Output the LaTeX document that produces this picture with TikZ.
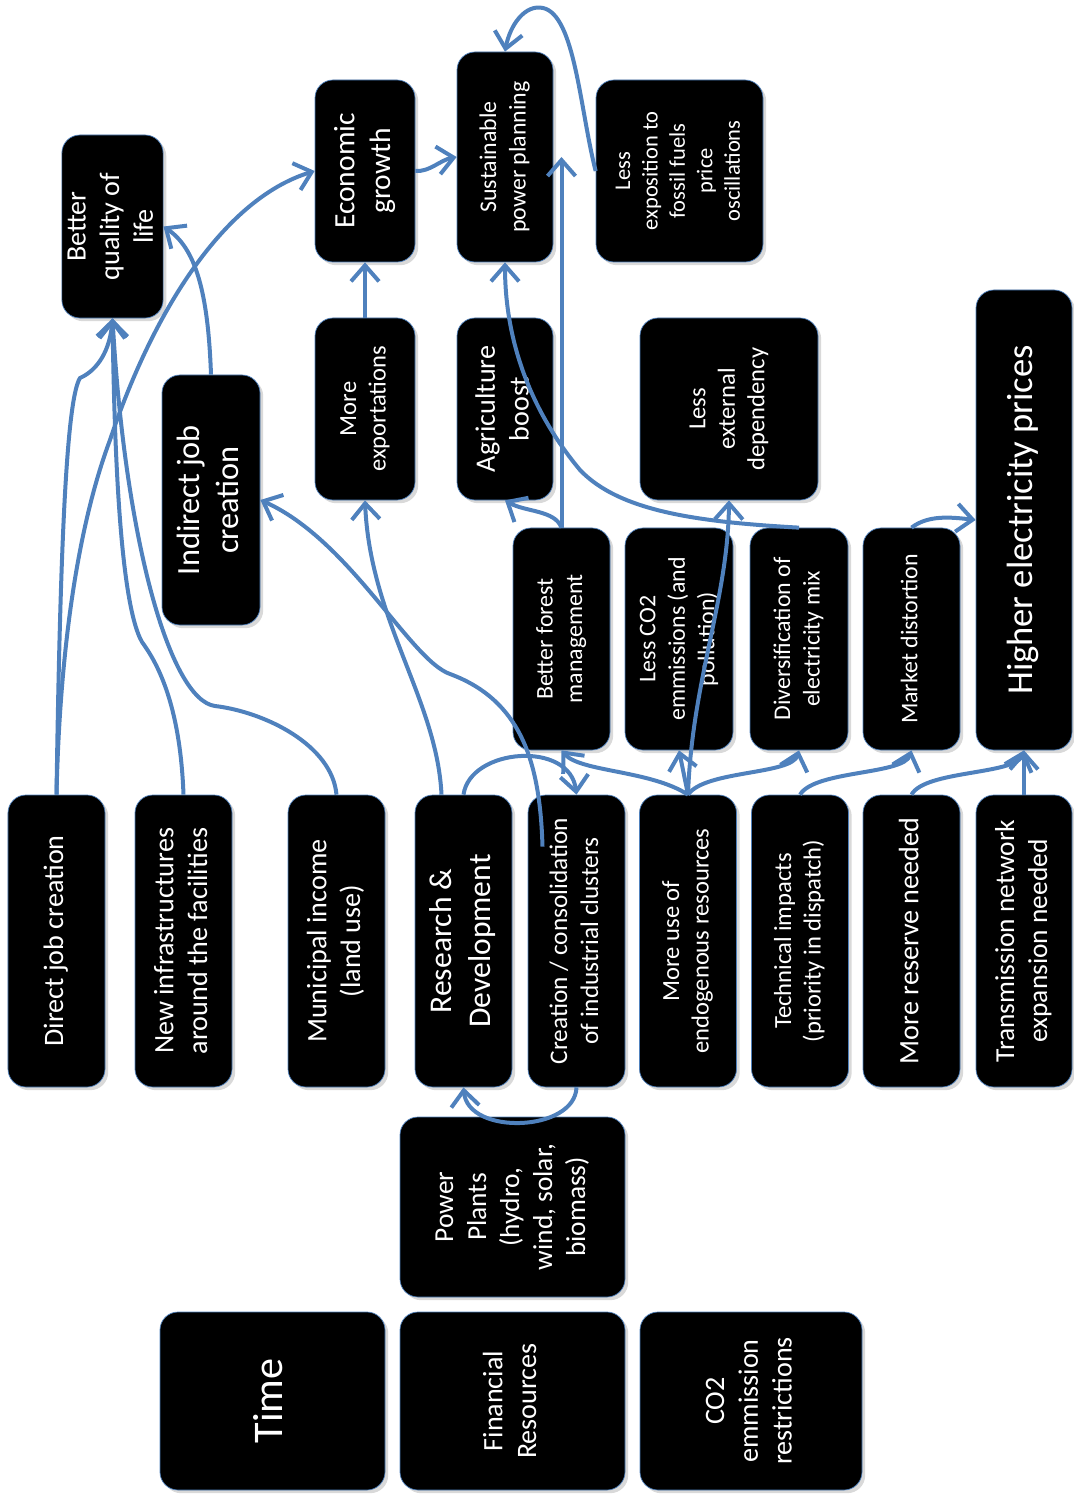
\documentclass[tikz,border=0pt]{standalone}
\usepackage{fontspec}
\setmainfont{Carlito}
\usetikzlibrary{arrows.meta,shadows}
\definecolor{linkblue}{RGB}{79,129,189}
\newcommand{\vlab}[1]{\rotatebox{90}{\begin{tabular}{@{}c@{}}#1\end{tabular}}}

\begin{document}
\begin{tikzpicture}[x=0.25mm,y=0.25mm,
    box/.style={fill=black,draw=linkblue,line width=0.5pt,rounded corners=4.5mm,text=white,inner sep=0pt,
        font=\fontsize{17.5}{21}\selectfont,drop shadow={shadow xshift=0.8mm,shadow yshift=-0.8mm,opacity=0.3}},
    topbox/.style={box,minimum width=24.5mm,minimum height=45.5mm},
    midbox/.style={box,minimum width=24.25mm,minimum height=55.5mm},
    lowbox/.style={box,minimum width=24.25mm,minimum height=73mm},
    link/.style={draw=linkblue,line width=1mm,-{Straight Barb[length=4mm,width=7mm]}}]
\useasboundingbox (0,0) rectangle (1073,-1496);

% top row
\node[topbox,minimum width=23.75mm,minimum height=45.75mm,font=\fontsize{20}{24}\selectfont] (qol) at (112.5,-226.5) {\vlab{Better\\quality of\\life}};
\node[topbox,minimum width=25mm,font=\fontsize{21}{25.5}\selectfont] (econ) at (365,-171) {\vlab{Economic\\growth}};
\node[topbox,minimum width=24mm,minimum height=52.5mm,font=\fontsize{17}{21}\selectfont] (sus) at (505,-157) {\vlab{Sustainable\\power planning}};
\node[topbox,minimum width=41.75mm,font=\fontsize{16}{19.5}\selectfont] (lexp) at (679.5,-171) {\vlab{Less\\exposition to\\fossil fuels\\price\\oscillations}};
\node[box,minimum width=24.5mm,minimum height=62.5mm,font=\fontsize{23}{28}\selectfont] (indir) at (211,-500) {\vlab{Indirect job\\creation}};
\node[topbox,minimum width=25mm] (expo) at (365,-409) {\vlab{More\\exportations}};
\node[topbox,minimum width=24mm,font=\fontsize{20}{24}\selectfont] (agri) at (505,-409) {\vlab{Agriculture\\boost}};
\node[topbox,minimum width=44.5mm] (lextdep) at (729,-409) {\vlab{Less\\external\\dependency}};
\node[box,minimum width=24mm,minimum height=115mm,font=\fontsize{26}{31}\selectfont] (price) at (1024,-520) {\vlab{Higher electricity prices}};

% middle row
\node[midbox,font=\fontsize{17}{21}\selectfont] (forest) at (561.5,-639) {\vlab{Better forest\\management}};
\node[midbox,minimum width=27mm,font=\fontsize{17}{21}\selectfont] (lessco) at (679,-639) {\vlab{Less CO2\\emmissions (and\\pollution)}};
\node[midbox,minimum width=24.5mm,font=\fontsize{17}{21}\selectfont] (divers) at (799,-639) {\vlab{Diversification of\\electricity mix}};
\node[midbox,font=\fontsize{17}{21}\selectfont] (mkt) at (911.5,-639) {\vlab{Market distortion}};

% bottom row
\node[lowbox,font=\fontsize{20}{24}\selectfont] (djob) at (56.5,-941) {\vlab{Direct job creation}};
\node[lowbox,font=\fontsize{20}{24}\selectfont] (infra) at (183.5,-941) {\vlab{New infrastructures\\around the facilities}};
\node[lowbox,font=\fontsize{20}{24}\selectfont] (muni) at (336.5,-941) {\vlab{Municipal income\\(land use)}};
\node[lowbox,font=\fontsize{22.5}{27.5}\selectfont] (rd) at (463.5,-941) {\vlab{Research \&\\Development}};
\node[lowbox,font=\fontsize{18}{22}\selectfont] (clust) at (576.5,-941) {\vlab{Creation / consolidation\\of industrial clusters}};
\node[lowbox] (endo) at (688,-941) {\vlab{More use of\\endogenous resources}};
\node[lowbox] (tech) at (800,-941) {\vlab{Technical impacts\\(priority in dispatch)}};
\node[lowbox,font=\fontsize{20}{24}\selectfont] (resv) at (911.5,-941) {\vlab{More reserve needed}};
\node[lowbox,minimum width=24mm,font=\fontsize{19.5}{23.5}\selectfont] (trans) at (1024,-941) {\vlab{Transmission network\\expansion needed}};

% resources
\node[box,minimum width=56.25mm,minimum height=45mm,font=\fontsize{19.5}{23.5}\selectfont] (plants) at (512.5,-1207) {\vlab{Power\\Plants\\(hydro,\\wind, solar,\\biomass)}};
\node[box,minimum width=56.25mm,minimum height=44.5mm,font=\fontsize{30}{36}\selectfont] (time) at (272.5,-1401) {\vlab{Time}};
\node[box,minimum width=56.25mm,minimum height=44.5mm,font=\fontsize{20}{24}\selectfont] (fin) at (512.5,-1401) {\vlab{Financial\\Resources}};
\node[box,minimum width=55.5mm,minimum height=44.5mm,font=\fontsize{20}{24}\selectfont] (co2r) at (751,-1401) {\vlab{CO2\\emmission\\restrictions}};

% connectors
\draw[link] (djob.north) .. controls (60,-560) and (66,-400) .. (80,-378) .. controls (98,-370) and (110,-350) .. (qol.south);
\draw[link] (djob.north) .. controls (60,-640) and (80,-520) .. (110,-440) .. controls (150,-320) and (220,-200) .. (econ.west);
\draw[link] (infra.north) .. controls (180,-700) and (155,-660) .. (142,-642) .. controls (118,-600) and (114,-420) .. (qol.south);
\draw[link] (muni.north) .. controls (332,-745) and (265,-712) .. (215,-706) .. controls (170,-700) and (125,-540) .. (qol.south);
\draw[link] (indir.north) .. controls (208,-290) and (195,-248) .. (qol.east);
\draw[link] (expo.north) -- (econ.south);
\draw[link] (econ.east) .. controls (430,-172) and (440,-160) .. (sus.west);
\draw[link] (lexp.west) .. controls (580,-110) and (575,-15) .. (543,-8) .. controls (525,-4) and (510,-25) .. (sus.north);
\draw[link] (forest.north) -- (forest.north |- sus.east);
\draw[link] (forest.north) .. controls (555,-510) and (525,-512) .. (agri.south);
\draw[link] (divers.north) .. controls (700,-522) and (620,-512) .. (580,-470) .. controls (530,-410) and (505,-340) .. (sus.south);
\draw[link] (rd.north) .. controls (470,-748) and (570,-740) .. (clust.north);
\draw[link] ([xshift=-5.5mm]rd.north) .. controls (437,-700) and (370,-620) .. (expo.south);
\draw[link] ([xshift=-8.5mm,yshift=-13mm]clust.north) .. controls (540,-760) and (520,-700) .. (450,-674) .. controls (410,-660) and (350,-540) .. (indir.east);
\draw[link] (clust.south) .. controls (575,-1132) and (468,-1136) .. (rd.south);
\draw[link] (endo.north) -- (lessco.south);
\draw[link] (endo.north) .. controls (692,-680) and (728,-600) .. (lextdep.south);
\draw[link] (endo.north) .. controls (650,-770) and (580,-772) .. (forest.south);
\draw[link] (endo.north) .. controls (705,-770) and (792,-775) .. (divers.south);
\draw[link] (tech.north) .. controls (815,-770) and (904,-775) .. (mkt.south);
\draw[link] (resv.north) .. controls (925,-770) and (1016,-775) .. (price.south);
\draw[link] (trans.north) -- (trans.north |- price.south);
\draw[link] (mkt.north) .. controls (928,-515) and (950,-517) .. (price.west);
\end{tikzpicture}
\end{document}
